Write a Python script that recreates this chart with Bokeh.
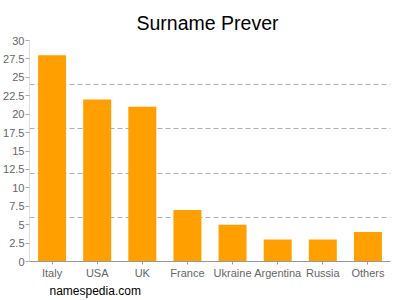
from bokeh.plotting import figure
from bokeh.models import FixedTicker, CustomJSTickFormatter, Range1d, Title
from bokeh.embed import file_html
from bokeh.resources import INLINE

countries = ["Italy", "USA", "UK", "France", "Ukraine", "Argentina", "Russia", "Others"]
counts = [28, 22, 21, 7, 5, 3, 3, 4]
y_ticks = [0, 2.5, 5, 7.5, 10, 12.5, 15, 17.5, 20, 22.5, 25, 27.5, 30]
grid_ticks = [6, 12, 18, 24, 30]

FONT = "Liberation Sans"

p = figure(x_range=countries, y_range=Range1d(0, 30), width=400, height=300,
           output_backend="svg", toolbar_location=None,
           min_border_left=0, min_border_right=10, min_border_top=40, min_border_bottom=39)

p.vbar(x=countries, top=counts, width=0.62, color="#ffa000", line_color=None)

p.title.text = "Surname Prever"
p.title.align = "left"
p.title.offset = 107
p.title.vertical_align = "bottom"
p.title.text_font = FONT
p.title.text_font_size = "19.5px"
p.title.text_font_style = "normal"
p.title.text_color = "#000000"
p.title.standoff = 14

p.outline_line_color = None
p.xgrid.grid_line_color = None
p.ygrid.ticker = FixedTicker(ticks=grid_ticks)
p.ygrid.grid_line_color = "#b0b0b0"
p.ygrid.grid_line_dash = "5 3"
p.ygrid.grid_line_width = 1

p.yaxis.ticker = FixedTicker(ticks=y_ticks)
p.yaxis.formatter = CustomJSTickFormatter(code="return tick.toString();")
p.yaxis.axis_line_color = "#dddddd"
p.yaxis.major_tick_line_color = "#aaaaaa"
p.yaxis.major_tick_in = 0
p.yaxis.major_tick_out = 4
p.yaxis.minor_tick_line_color = None
p.yaxis.major_label_standoff = 1
p.yaxis.major_label_text_font = FONT
p.yaxis.major_label_text_font_size = "11px"
p.yaxis.major_label_text_color = "#666666"

p.xaxis.axis_line_color = "#999999"
p.xaxis.major_tick_line_color = "#999999"
p.xaxis.major_tick_in = 0
p.xaxis.major_tick_out = 3
p.xaxis.major_label_standoff = 2
p.xaxis.major_label_text_font = FONT
p.xaxis.major_label_text_font_size = "11px"
p.xaxis.major_label_text_color = "#666666"

credit = Title(text="namespedia.com", align="left", offset=20, standoff=0,
               text_font=FONT, text_font_size="12px", text_font_style="normal",
               text_color="#000000")
p.add_layout(credit, "below")

open("out.html", "w").write(file_html(p, INLINE))
